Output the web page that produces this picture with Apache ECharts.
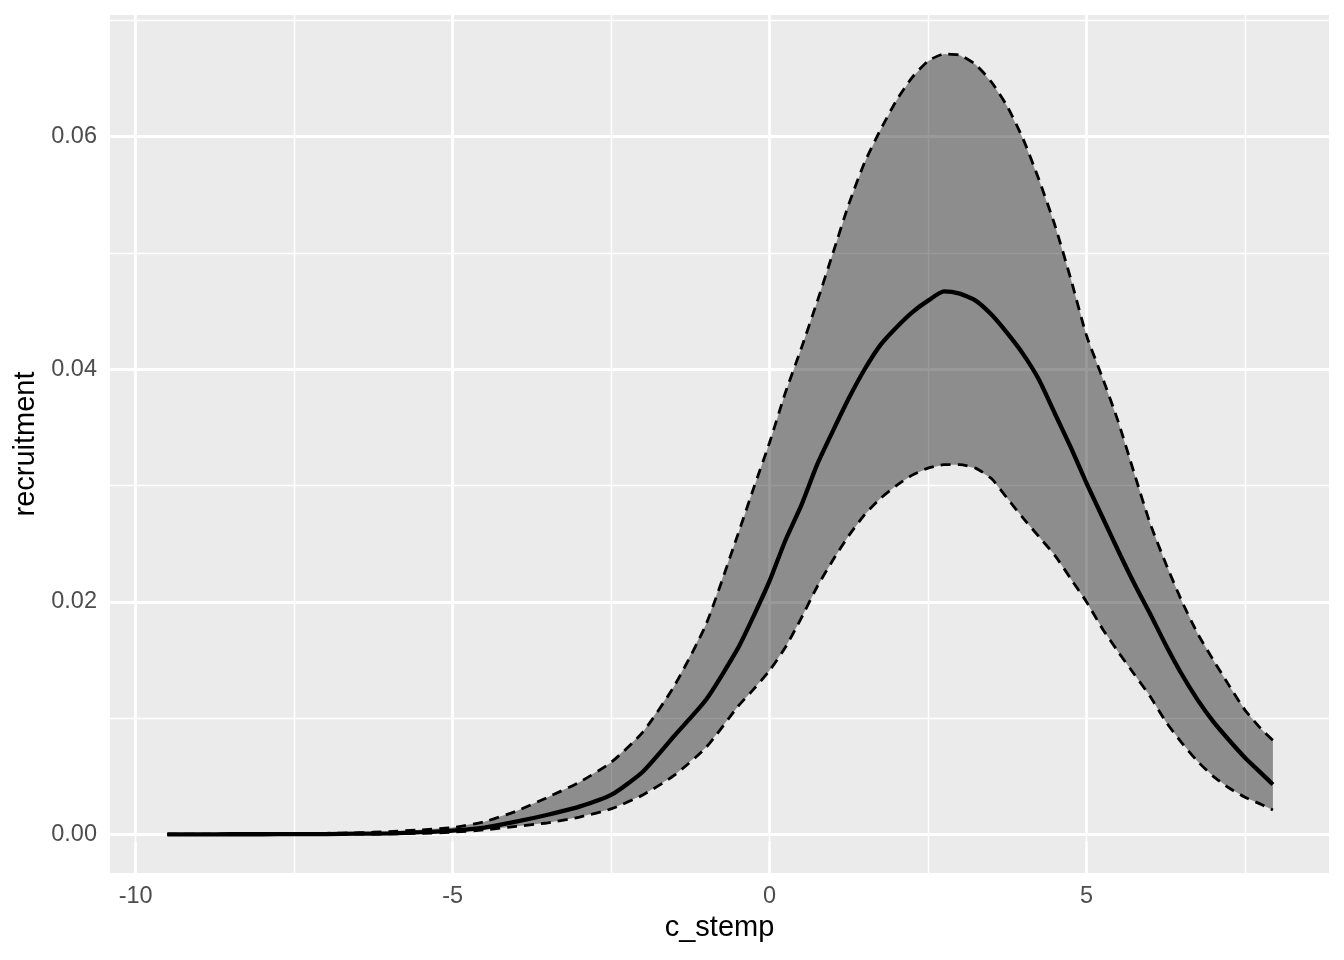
<!DOCTYPE html>
<html>
<head>
<meta charset="utf-8">
<script src="https://cdn.jsdelivr.net/npm/echarts@6/dist/echarts.min.js"></script>
<style>
html,body{margin:0;padding:0;background:#fff;}
#chart{width:1344px;height:960px;}
</style>
</head>
<body>
<div id="chart"></div>
<script>
// ---- data ----
const xs = [-9.5,-9,-8.5,-8,-7.5,-7,-6.5,-6,-5.5,-5,-4.5,-4,-3.5,-3,-2.5,-2,-1.5,-1,-0.5,-0.25,0,0.25,0.5,0.75,1,1.25,1.5,1.75,2,2.25,2.5,2.75,3,3.25,3.5,3.75,4,4.25,4.5,4.75,5,5.25,5.5,5.75,6,6.25,6.5,6.75,7,7.25,7.5,7.75,7.94];
const meanVals = [0.00001,0.00001,0.00002,0.00002,0.00003,0.00004,0.00007,0.0001,0.0002,0.00034,0.0006,0.0011,0.0017,0.0024,0.0034,0.0054,0.0085,0.0116,0.016,0.0188,0.0218,0.0253,0.0283,0.0318,0.0347,0.0375,0.04,0.0421,0.0436,0.0449,0.0459,0.0467,0.0465,0.0459,0.0447,0.0431,0.0413,0.0391,0.0362,0.0333,0.0302,0.0273,0.0244,0.0216,0.019,0.0163,0.0138,0.0116,0.0097,0.0081,0.0066,0.0053,0.0043];
const upperVals = [0.00002,0.00002,0.00003,0.00004,0.00006,0.0001,0.00015,0.00025,0.0004,0.0006,0.0011,0.002,0.0032,0.0045,0.0062,0.0088,0.0128,0.0181,0.0258,0.0298,0.0337,0.038,0.0418,0.0458,0.05,0.0542,0.0578,0.0606,0.0631,0.0651,0.0665,0.0671,0.067,0.0662,0.0647,0.0626,0.0598,0.0563,0.0524,0.0478,0.0429,0.0393,0.0355,0.0311,0.0268,0.0233,0.0201,0.0173,0.015,0.0128,0.0107,0.0091,0.0081];
const lowerVals = [0,0,0.00001,0.00001,0.00001,0.00002,0.00003,0.00005,0.0001,0.0002,0.0004,0.0007,0.001,0.0015,0.0022,0.0034,0.0051,0.0075,0.011,0.0125,0.0141,0.0161,0.0186,0.0213,0.0236,0.0257,0.0275,0.0289,0.03,0.0309,0.0315,0.0318,0.0318,0.0315,0.0306,0.0289,0.0272,0.0256,0.024,0.022,0.02,0.0177,0.0157,0.0138,0.0119,0.0097,0.0079,0.0063,0.005,0.004,0.0032,0.0026,0.0021];

const xTicks = [-10, -5, 0, 5];
const xMinor = [-7.5, -2.5, 2.5, 7.5];
const yTicks = [0, 0.02, 0.04, 0.06];
const yMinor = [0.01, 0.03, 0.05, 0.07];
const xTickLabels = ['-10', '-5', '0', '5'];
const yTickLabels = ['0.00', '0.02', '0.04', '0.06'];

const xMin = -10.405, xMax = 8.825;
const yMin = -0.00331, yMax = 0.07046;

const FONT = '"Liberation Sans", Arial, sans-serif';

const pair = (vals) => xs.map((x, i) => [x, vals[i]]);

const gridLine = (vals, axis, w) => vals.map(v => ({ [axis]: v, lineStyle: { color: '#ffffff', width: w, type: 'solid' } }));

const chart = echarts.init(document.getElementById('chart'), null, { renderer: 'canvas' });
chart.setOption({
  animation: false,
  backgroundColor: '#ffffff',
  grid: { left: 110, right: 15, top: 15, bottom: 87, show: true, backgroundColor: '#EBEBEB', borderWidth: 0 },
  xAxis: {
    type: 'value', min: xMin, max: xMax,
    name: 'c_stemp', nameLocation: 'middle', nameGap: 38,
    nameTextStyle: { color: '#000000', fontSize: 29, fontFamily: FONT },
    axisLine: { show: false },
    axisTick: { show: true, length: 7, customValues: xTicks, lineStyle: { color: '#333333', width: 2.5 } },
    axisLabel: { customValues: xTicks, margin: 12, color: '#4D4D4D', fontSize: 23.5, fontFamily: FONT,
      formatter: v => { const i = xTicks.indexOf(v); return i >= 0 ? xTickLabels[i] : ''; } },
    splitLine: { show: false }
  },
  yAxis: {
    type: 'value', min: yMin, max: yMax,
    name: 'recruitment', nameLocation: 'middle', nameGap: 66,
    nameTextStyle: { color: '#000000', fontSize: 29, fontFamily: FONT },
    axisLine: { show: false },
    axisTick: { show: true, length: 7, customValues: yTicks, lineStyle: { color: '#333333', width: 2.5 } },
    axisLabel: { customValues: yTicks, margin: 13, color: '#4D4D4D', fontSize: 23.5, fontFamily: FONT,
      formatter: v => { const i = yTicks.findIndex(t => Math.abs(t - v) < 1e-9); return i >= 0 ? yTickLabels[i] : ''; } },
    splitLine: { show: false }
  },
  series: [
    {
      name: 'grid', type: 'line', data: [], z: 1, silent: true,
      markLine: {
        z: 1, silent: true, symbol: 'none', label: { show: false }, animation: false,
        data: [].concat(
          gridLine(xMinor, 'xAxis', 1.4), gridLine(yMinor, 'yAxis', 1.4),
          gridLine(xTicks, 'xAxis', 2.8), gridLine(yTicks, 'yAxis', 2.8)
        )
      }
    },
    {
      name: 'band', type: 'custom', z: 2, silent: true,
      data: [[xs[0], upperVals[0]]],
      renderItem: function (params, api) {
        const pts = [];
        for (let i = 0; i < xs.length; i++) pts.push(api.coord([xs[i], upperVals[i]]));
        for (let i = xs.length - 1; i >= 0; i--) pts.push(api.coord([xs[i], lowerVals[i]]));
        return { type: 'polygon', shape: { points: pts, smooth: 0 }, style: { fill: 'rgba(0,0,0,0.4)', stroke: 'none' } };
      }
    },
    {
      name: 'lower', type: 'line', data: pair(lowerVals), z: 3, smooth: 0.2,
      showSymbol: false, symbol: 'none',
      lineStyle: { color: '#000000', width: 2.8, type: [10, 7] }
    },
    {
      name: 'upper', type: 'line', data: pair(upperVals), z: 3, smooth: 0.2,
      showSymbol: false, symbol: 'none',
      lineStyle: { color: '#000000', width: 2.8, type: [10, 7] }
    },
    {
      name: 'mean', type: 'line', data: pair(meanVals), z: 4, smooth: 0.2,
      showSymbol: false, symbol: 'none',
      lineStyle: { color: '#000000', width: 4.3 }
    }
  ]
});
</script>
</body>
</html>
